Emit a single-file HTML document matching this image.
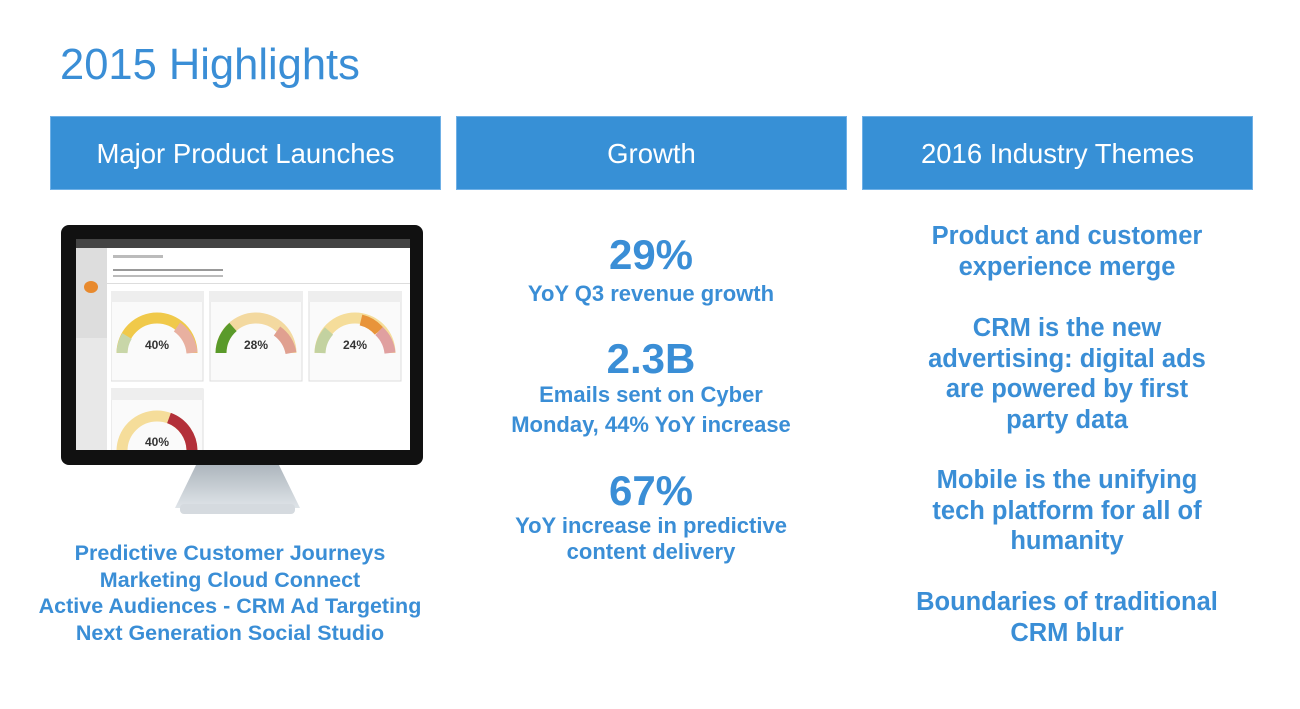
<!DOCTYPE html>
<html><head><style>
body{margin:0;width:1300px;height:709px;background:#fff;position:relative;overflow:hidden;font-family:"Liberation Sans",Arial,sans-serif;}
.a{position:absolute}
.h{position:absolute;top:116px;height:74px;background:#3790d6;color:#fff;font-size:27.5px;line-height:74px;text-align:center;border:1px solid #6fb0e6;box-sizing:border-box}
.t{position:absolute;color:#3a8ed6;font-weight:bold;text-align:center}
</style></head><body>
<div class="a" style="left:60px;top:41px;font-size:43.5px;color:#3a8ed6;">2015 Highlights</div>
<div class="h" style="left:50px;width:391px">Major Product Launches</div>
<div class="h" style="left:456px;width:391px">Growth</div>
<div class="h" style="left:862px;width:391px">2016 Industry Themes</div>

<!-- monitor -->
<div class="a" style="left:175px;top:462px;width:125px;height:46px;background:linear-gradient(#aab3bb,#dfe4e8);clip-path:polygon(18% 0,82% 0,100% 100%,0 100%)"></div>
<div class="a" style="left:180px;top:504px;width:115px;height:10px;background:#d5dadf;border-radius:4px"></div>
<div class="a" style="left:61px;top:225px;width:362px;height:240px;background:#111;border-radius:8px"></div>
<div class="a" style="left:76px;top:239px;width:334px;height:211px;background:#fff;overflow:hidden">
 <div class="a" style="left:0;top:0;width:334px;height:9px;background:#444"></div>
 <div class="a" style="left:0;top:9px;width:31px;height:202px;background:#e8e8e8"></div>
 <div class="a" style="left:0;top:9px;width:31px;height:90px;background:#ddd"></div>
 <div class="a" style="left:8px;top:42px;width:14px;height:12px;background:#e88a2e;border-radius:50%"></div>
 <div class="a" style="left:37px;top:16px;width:50px;height:3px;background:#bbb"></div>
 <div class="a" style="left:37px;top:30px;width:110px;height:2px;background:#999"></div>
 <div class="a" style="left:37px;top:36px;width:110px;height:2px;background:#bbb"></div>
 <div class="a" style="left:31px;top:44px;width:303px;height:1px;background:#ddd"></div>
 <svg class="a" style="left:35px;top:52px" width="300" height="160">
  <g fill="none" stroke-width="11">
   <rect x="0" y="0" width="92" height="90" fill="#fafafa" stroke="#ddd" stroke-width="1"/>
   <rect x="99" y="0" width="92" height="90" fill="#fafafa" stroke="#ddd" stroke-width="1"/>
   <rect x="198" y="0" width="92" height="90" fill="#fafafa" stroke="#ddd" stroke-width="1"/>
   <rect x="0" y="98" width="92" height="70" fill="#fafafa" stroke="#ddd" stroke-width="1"/>
   <rect x="0" y="0" width="92" height="11" fill="#eee"/>
   <rect x="99" y="0" width="92" height="11" fill="#eee"/>
   <rect x="198" y="0" width="92" height="11" fill="#eee"/>
   <rect x="0" y="98" width="92" height="11" fill="#eee"/>
   <path d="M11 62 A35 35 0 0 1 81 62" stroke="#f0c94a"/>
   <path d="M11 62 A35 35 0 0 1 16 45" stroke="#c8d6a8"/>
   <path d="M66 36 A35 35 0 0 1 81 62" stroke="#e8b0a0"/>
   <path d="M110 62 A35 35 0 0 1 180 62" stroke="#f3d9a0"/>
   <path d="M110 62 A35 35 0 0 1 122 36" stroke="#5a9a2a"/>
   <path d="M166 40 A35 35 0 0 1 180 62" stroke="#e0a090"/>
   <path d="M209 62 A35 35 0 0 1 279 62" stroke="#f5dd9a"/>
   <path d="M209 62 A35 35 0 0 1 218 40" stroke="#c3d2a0"/>
   <path d="M250 29 A35 35 0 0 1 268 40" stroke="#e8943a"/>
   <path d="M268 40 A35 35 0 0 1 279 62" stroke="#e0a0a0"/>
   <path d="M11 160 A35 35 0 0 1 81 160" stroke="#f5dd9a"/>
   <path d="M58 127 A35 35 0 0 1 81 160" stroke="#b3303a"/>
  </g>
  <g font-size="12" font-weight="bold" fill="#333" text-anchor="middle">
   <text x="46" y="58">40%</text><text x="145" y="58">28%</text><text x="244" y="58">24%</text><text x="46" y="155">40%</text>
  </g>
 </svg>
</div>

<div class="t" style="left:10px;width:440px;top:540px;font-size:21.5px;line-height:26.7px">Predictive Customer Journeys<br>Marketing Cloud Connect<br>Active Audiences - CRM Ad Targeting<br>Next Generation Social Studio</div>

<div class="t" style="left:451px;width:400px;top:231px;font-size:42px">29%</div>
<div class="t" style="left:451px;width:400px;top:281px;font-size:22px">YoY Q3 revenue growth</div>
<div class="t" style="left:451px;width:400px;top:335px;font-size:42px">2.3B</div>
<div class="t" style="left:451px;width:400px;top:380px;font-size:22px;line-height:30px">Emails sent on Cyber<br>Monday, 44% YoY increase</div>
<div class="t" style="left:451px;width:400px;top:467px;font-size:42px">67%</div>
<div class="t" style="left:451px;width:400px;top:513px;font-size:22px;line-height:26px">YoY increase in predictive<br>content delivery</div>

<div class="t" style="left:847px;width:440px;top:221px;font-size:25.5px;line-height:30.5px">Product and customer<br>experience merge</div>
<div class="t" style="left:847px;width:440px;top:313px;font-size:25.5px;line-height:30.5px">CRM is the new<br>advertising: digital ads<br>are powered by first<br>party data</div>
<div class="t" style="left:847px;width:440px;top:465px;font-size:25.5px;line-height:30.5px">Mobile is the unifying<br>tech platform for all of<br>humanity</div>
<div class="t" style="left:847px;width:440px;top:587px;font-size:25.5px;line-height:30.5px">Boundaries of traditional<br>CRM blur</div>
</body></html>
